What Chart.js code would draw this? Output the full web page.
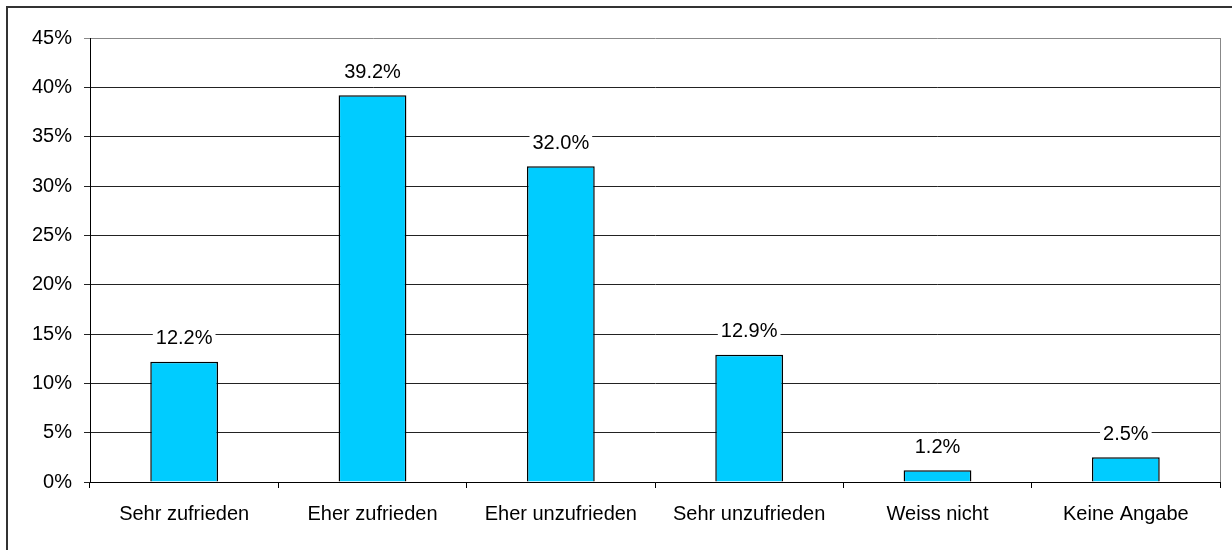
<!DOCTYPE html>
<html>
<head>
<meta charset="utf-8">
<script src="https://cdn.jsdelivr.net/npm/chart.js@4"></script>
<style>
  body { margin: 0; background: #fff; }
  .wrap { width: 1232px; height: 550px; }
</style>
</head>
<body>
<div class="wrap"><canvas id="c"></canvas></div>
<script>
const categories = ['Sehr zufrieden', 'Eher zufrieden', 'Eher unzufrieden', 'Sehr unzufrieden', 'Weiss nicht', 'Keine Angabe'];
const shares = [12.2, 39.2, 32.0, 12.9, 1.2, 2.5];
const yTicks = [0, 5, 10, 15, 20, 25, 30, 35, 40, 45];

const font = { family: 'Liberation Sans, Arial, sans-serif', size: 20 };

// value labels on a white box, like the original
const valueLabels = {
  id: 'valueLabels',
  afterDatasetsDraw(chart) {
    const ctx = chart.ctx;
    const meta = chart.getDatasetMeta(0);
    ctx.save();
    ctx.font = `${font.size}px ${font.family}`;
    ctx.textAlign = 'center';
    ctx.textBaseline = 'middle';
    meta.data.forEach((bar, i) => {
      const txt = shares[i].toFixed(1) + '%';
      const w = ctx.measureText(txt).width;
      const y = bar.y - 23;
      ctx.fillStyle = '#fff';
      ctx.fillRect(bar.x - w / 2 - 3, y - 11, w + 6, 22);
      ctx.fillStyle = '#000';
      ctx.fillText(txt, bar.x, y);
    });
    ctx.restore();
  }
};

const frame = {
  id: 'frame',
  afterDraw(chart) {
    const { ctx, chartArea } = chart;
    ctx.save();
    ctx.strokeStyle = '#888';
    ctx.lineWidth = 1;
    ctx.beginPath();
    ctx.moveTo(chartArea.right + 0.5, chartArea.top);
    ctx.lineTo(chartArea.right + 0.5, chartArea.bottom);
    ctx.stroke();
    ctx.strokeStyle = '#333';
    ctx.lineWidth = 2;
    ctx.beginPath();
    ctx.moveTo(7, 560);
    ctx.lineTo(7, 7);
    ctx.lineTo(1240, 7);
    ctx.stroke();
    ctx.restore();
  }
};

new Chart(document.getElementById('c'), {
  type: 'bar',
  data: {
    labels: categories,
    datasets: [{
      data: shares,
      backgroundColor: '#00CCFF',
      borderColor: '#000',
      borderWidth: 1.5,
      categoryPercentage: 1,
      barPercentage: 0.36
    }]
  },
  options: {
    responsive: true,
    maintainAspectRatio: false,
    animation: false,
    layout: { padding: { top: 38, right: 12, left: 0, bottom: 0 } },
    plugins: { legend: { display: false }, tooltip: { enabled: false } },
    scales: {
      x: {
        grid: { drawOnChartArea: false, drawTicks: true, tickLength: 6, color: '#000', offset: true },
        border: { color: '#000' },
        ticks: { color: '#000', font, padding: 14, maxRotation: 0 },
        afterFit(s) { s.height = 68; }
      },
      y: {
        min: 0,
        max: 45,
        afterBuildTicks(s) { s.ticks = yTicks.map(v => ({ value: v })); },
        grid: {
          tickLength: 6,
          color: c => (c.tick && c.tick.value === 45 ? '#888' : '#222')
        },
        border: { color: '#000' },
        ticks: { color: '#000', font, padding: 12, callback: v => v + '%' },
        afterFit(s) { s.width = 90; }
      }
    }
  },
  plugins: [valueLabels, frame]
});
</script>
</body>
</html>
